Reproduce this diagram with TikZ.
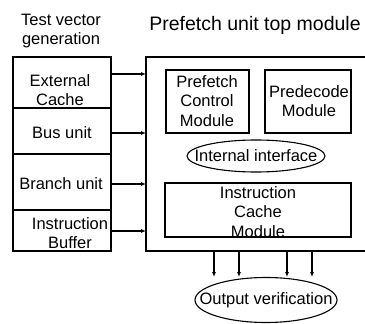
\documentclass[tikz,border=0pt]{standalone}
\usepackage{fontspec}
\setmainfont{Liberation Sans}
\usetikzlibrary{shapes.geometric,arrows.meta}
\begin{document}
\begin{tikzpicture}[x=1pt,y=-1pt,
  line width=1.1pt,
  lbl/.style={inner sep=0pt,font=\fontsize{16.5}{19.5}\selectfont,align=center},
  ttl/.style={inner sep=0pt,font=\fontsize{19.5}{22}\selectfont,align=center},
  oval/.style={draw,ellipse,inner sep=0pt},
  sig/.style={-{Latex[length=5pt,width=4pt]},line width=1.1pt}]
\useasboundingbox (0,0) rectangle (365,324);

% titles
\node[lbl] (tvg) at (61,31) {Test vector\\generation};
\node[ttl] (ptm) at (255,25) {Prefetch unit top module};

% stimulus column
\draw (13,57) rectangle (111,251);
\draw (13,108) -- (111,108);
\draw (13,154) -- (111,154);
\draw (13,210) -- (111,210);
\node[lbl] (ext) at (60,90) {External\\Cache};
\node[lbl] (bus) at (62,133) {Bus unit};
\node[lbl] (br) at (61,184) {Branch unit};
\node[lbl] (ib) at (70,233) {Instruction\\Buffer};

% prefetch unit top module
\draw (370,57) -- (146,57) -- (146,251) -- (370,251);
\draw (166,70) rectangle (249,133);
\node[lbl] (pcm) at (207,101) {Prefetch\\Control\\Module};
\draw (265,70) rectangle (351,133);
\node[lbl] (pdm) at (309,101) {Predecode\\Module};
\node[oval,minimum width=138pt,minimum height=32pt] (ii) at (256,156) {};
\node[lbl] at (ii.center) {Internal interface};
\draw (165,183) rectangle (351,237);
\node[lbl] (icm) at (258,212) {Instruction\\Cache\\Module};

% stimulus connectors
\coordinate (e1) at (146,74);
\coordinate (e2) at (146,133);
\coordinate (e3) at (146,184);
\coordinate (e4) at (146,231);
\coordinate (s1) at (111,74);
\coordinate (s2) at (111,133);
\coordinate (s3) at (111,184);
\coordinate (s4) at (111,231);
\draw[sig] (s1) -- (e1);
\draw[sig] (s2) -- (e2);
\draw[sig] (s3) -- (e3);
\draw[sig] (s4) -- (e4);

% output verification
\node[oval,minimum width=142pt,minimum height=45pt] (ov) at (266,300) {};
\node[lbl] at (ov.center) {Output verification};
\foreach \x in {214,239,287,312} {
  \coordinate (o\x) at (\x,251);
  \coordinate (t\x) at (\x,277);
  \draw[sig] (o\x) -- (t\x);
}
\end{tikzpicture}
\end{document}
